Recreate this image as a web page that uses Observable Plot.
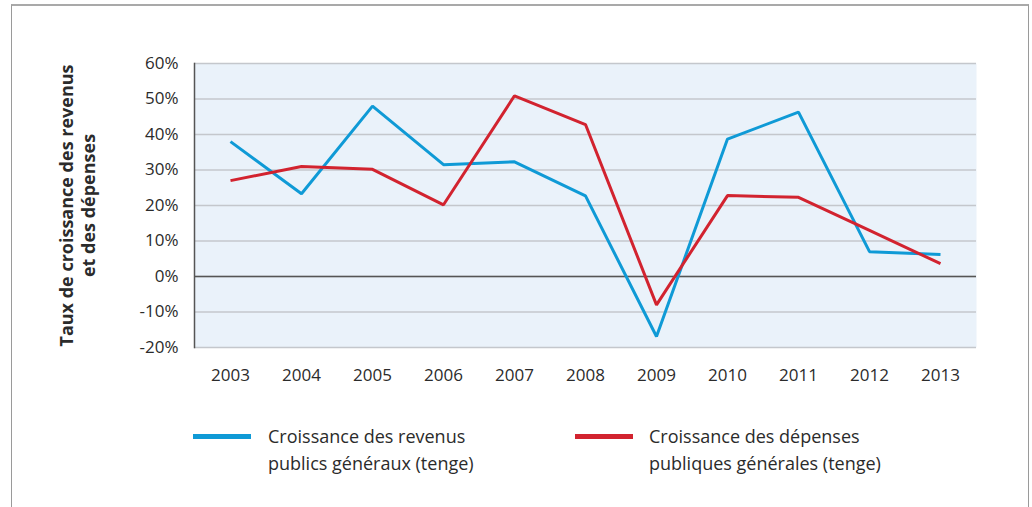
<!DOCTYPE html>
<html>
<head>
<meta charset="utf-8">
<script src="https://cdn.jsdelivr.net/npm/d3@7"></script>
<script src="https://cdn.jsdelivr.net/npm/@observablehq/plot@0.6"></script>
<style>
  html, body { margin: 0; padding: 0; background: #fff; overflow: hidden; }
  #wrap { position: relative; width: 1032px; height: 507px; font-family: "Open Sans", sans-serif; color: #2b2b2b; }
  #box { position: absolute; left: 11px; top: 4px; width: 1016px; height: 600px;
         border-top: 2px solid #a9a9a9; border-left: 1px solid #9a9a9a; border-right: 1px solid #9a9a9a; }
  #chart { position: absolute; left: 0; top: 0; }
  .leg { position: absolute; top: 423px; font-size: 18px; line-height: 27px; }
  .sw { position: absolute; top: 434px; height: 5px; width: 58px; }
</style>
</head>
<body>
<div id="wrap">
  <div id="box"></div>
  <div id="chart"></div>
</div>
<script>
const years = ["2003","2004","2005","2006","2007","2008","2009","2010","2011","2012","2013"];
const revenue = [38.0, 23.3, 48.0, 31.5, 32.3, 22.7, -16.9, 38.7, 46.3, 7.0, 6.2];
const spending = [27.0, 31.0, 30.2, 20.2, 50.9, 42.8, -8.0, 22.8, 22.3, 13.0, 3.6];
const yTicks = [-20, -10, 0, 10, 20, 30, 40, 50, 60];
const seriesNames = ["Croissance des revenus\npublics généraux (tenge)", "Croissance des dépenses\npubliques générales (tenge)"];
const seriesColors = ["#0f9ad6", "#d2232f"];
const yTitle = "Taux de croissance des revenus\net des dépenses";

const rows = [];
years.forEach((y, i) => {
  rows.push({year: y, value: revenue[i], series: seriesNames[0]});
  rows.push({year: y, value: spending[i], series: seriesNames[1]});
});

const font = "'Open Sans', sans-serif";
const chart = Plot.plot({
  width: 1032,
  height: 390,
  marginLeft: 194,
  marginRight: 56,
  marginTop: 63,
  marginBottom: 43,
  style: {fontFamily: font, fontSize: "17px", color: "#2b2b2b", background: "transparent"},
  x: {type: "point", domain: years, padding: 0.5, label: null},
  y: {domain: [-20, 60], label: null},
  color: {domain: seriesNames, range: seriesColors},
  marks: [
    Plot.frame({fill: "#eaf2fa", stroke: null}),
    Plot.gridY(yTicks, {stroke: "#c4c7cc", strokeOpacity: 1, strokeWidth: 1.5}),
    Plot.ruleY([0], {stroke: "#555", strokeWidth: 1.5}),
    Plot.frame({anchor: "left", stroke: "#555", strokeWidth: 1.5}),
    Plot.axisY(yTicks, {tickSize: 0, tickPadding: 16, tickFormat: d => d + "%", fontSize: 17, fill: "#2b2b2b", label: null}),
    Plot.axisX({tickSize: 0, tickPadding: 21, fontSize: 17, fill: "#2b2b2b", label: null}),
    Plot.line(rows, {x: "year", y: "value", z: "series", stroke: "series", strokeWidth: 3, strokeLinejoin: "miter", strokeLinecap: "butt"}),
    Plot.text([yTitle], {frameAnchor: "left", dx: -118, rotate: -90, textAnchor: "middle", lineAnchor: "middle", text: d => d, fontSize: 18, fontWeight: "bold", lineHeight: 1.22, fill: "#2b2b2b"})
  ]
});
document.getElementById("chart").appendChild(chart);

const wrap = document.getElementById("wrap");
const legendPos = [{sw: 193, tx: 268}, {sw: 575, tx: 649}];
seriesNames.forEach((name, i) => {
  const sw = document.createElement("div");
  sw.className = "sw";
  sw.style.left = legendPos[i].sw + "px";
  sw.style.background = seriesColors[i];
  wrap.appendChild(sw);
  const t = document.createElement("div");
  t.className = "leg";
  t.style.left = legendPos[i].tx + "px";
  t.innerHTML = name.split("\n").join("<br>");
  wrap.appendChild(t);
});
</script>
</body>
</html>
